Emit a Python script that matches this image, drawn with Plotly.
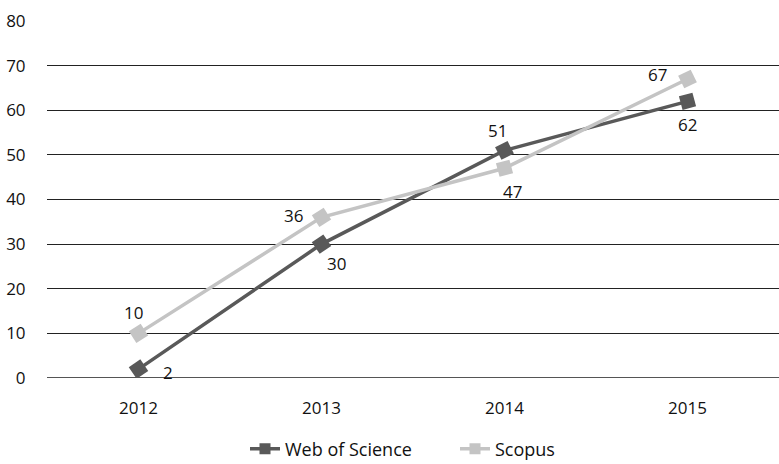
import math
import plotly.graph_objects as go

years = ["2012", "2013", "2014", "2015"]
web_of_science = [2, 30, 51, 62]
scopus = [10, 36, 47, 67]
y_ticks = [0, 10, 20, 30, 40, 50, 60, 70, 80]

DARK = "#595959"
LIGHT = "#c4c4c4"
FONT = "'Open Sans', 'Noto Sans', sans-serif"

W, H = 779, 464
M = dict(l=47, r=0, t=21, b=86)
Y_MAX = 80
px_x = (W - M["l"] - M["r"]) / len(years)
px_y = (H - M["t"] - M["b"]) / Y_MAX
x_idx = list(range(len(years)))


def marker_angles(vals):
    """Rotate each square along the incoming segment (outgoing for the first)."""
    out = []
    for i in range(len(vals)):
        a, b = (i, i + 1) if i == 0 else (i - 1, i)
        ang = math.degrees(math.atan2((vals[b] - vals[a]) * px_y, px_x))
        out.append(-ang)
    return out


fig = go.Figure()
for name, vals, color in (("Web of Science", web_of_science, DARK),
                          ("Scopus", scopus, LIGHT)):
    fig.add_trace(go.Scatter(
        x=x_idx, y=vals, name=name, mode="lines+markers", legendgroup=name,
        showlegend=False,
        line=dict(color=color, width=3.5),
        marker=dict(symbol="square", size=14, color=color,
                    angle=marker_angles(vals)),
    ))
    # upright key for the legend
    fig.add_trace(go.Scatter(
        x=[None], y=[None], name=name, mode="lines+markers", legendgroup=name,
        line=dict(color=color, width=3.5),
        marker=dict(symbol="square", size=11, color=color),
    ))

# value labels, offset from each point (pixels)
wos_offsets = [(29, -3), (15, -19), (-7, 20), (0, -23)]
sco_offsets = [(-5, 21), (-28, 2), (8, -23), (-30, 5)]
for series, offs in ((web_of_science, wos_offsets), (scopus, sco_offsets)):
    for xi, v, (dx, dy) in zip(x_idx, series, offs):
        fig.add_annotation(x=xi, y=v, xref="x", yref="y", text=str(v),
                           showarrow=False, xshift=dx, yshift=dy,
                           font=dict(family=FONT, size=17, color="#111111"))

fig.update_layout(
    width=W, height=H,
    margin=M,
    paper_bgcolor="white", plot_bgcolor="white",
    font=dict(family=FONT, size=17, color="#111111"),
    showlegend=True,
    legend=dict(orientation="h", xref="container", x=245 / W, xanchor="left",
                yref="container", y=(H - 449) / H, yanchor="middle",
                font=dict(size=18), entrywidth=165, entrywidthmode="pixels",
                tracegroupgap=0),
    xaxis=dict(range=[-0.5, 3.5], tickvals=x_idx, ticktext=years,
               showgrid=False, zeroline=False, showline=False,
               ticks="outside", ticklen=15, tickcolor="rgba(0,0,0,0)"),
    yaxis=dict(range=[0, Y_MAX], tickvals=y_ticks, showgrid=True,
               gridcolor="#222222", gridwidth=1.3, zeroline=False,
               showline=False, ticks="outside", ticklen=17,
               tickcolor="rgba(0,0,0,0)"),
)
# baseline at zero
fig.add_shape(type="line", xref="paper", yref="y", x0=0, x1=1, y0=0, y1=0,
              line=dict(color="#555555", width=2.2), layer="below")

fig.write_html("out.html")
